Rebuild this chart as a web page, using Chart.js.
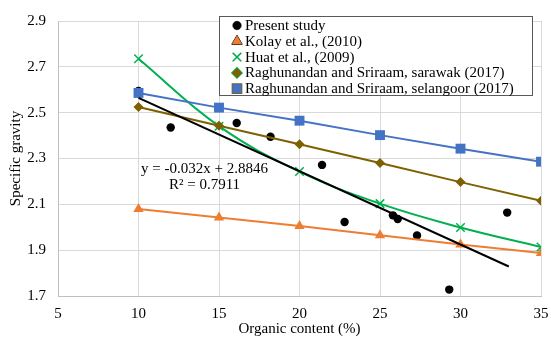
<!DOCTYPE html>
<html>
<head>
<meta charset="utf-8">
<script src="https://cdn.jsdelivr.net/npm/chart.js@4/dist/chart.umd.min.js"></script>
<style>
  html, body { margin: 0; padding: 0; background: #fff; }
  #wrap { width: 551px; height: 339px; position: relative; }
</style>
</head>
<body>
<div id="wrap"><canvas id="chart"></canvas></div>
<script>
// x ticks run 5..35, y ticks 1.7..2.9
const seriesX = [10, 15, 20, 25, 30, 35];

// Present study (scatter)
const presentX = [10, 12, 16.1, 18.2, 21.4, 22.8, 25.8, 26.1, 27.3, 29.3, 32.9];
const presentY = [2.595, 2.435, 2.455, 2.395, 2.272, 2.023, 2.052, 2.036, 1.964, 1.728, 2.064];

// literature series
const kolayY = [2.08, 2.043, 2.005, 1.965, 1.925, 1.888];
const huatY = [2.735, 2.441, 2.243, 2.103, 1.999, 1.914];
const sarawakY = [2.525, 2.443, 2.362, 2.28, 2.197, 2.116];
const selangoorY = [2.586, 2.522, 2.465, 2.402, 2.343, 2.286];

// linear trend of present study
const trendSlope = -0.032;
const trendIntercept = 2.8846;
const trendRange = [10, 33];

const legendLabels = [
  'Present study',
  'Kolay et al., (2010)',
  'Huat et al., (2009)',
  'Raghunandan and Sriraam, sarawak (2017)',
  'Raghunandan and Sriraam, selangoor (2017)'
];

const FONT = "'Liberation Serif', 'Times New Roman', serif";

function pts(xs, ys) { return xs.map((x, i) => ({ x: x, y: ys[i] })); }

const trendData = trendRange.map(x => ({ x: x, y: trendSlope * x + trendIntercept }));

const datasets = [
  {
    label: 'trend', data: trendData, showLine: true, borderColor: '#000', borderWidth: 2,
    pointRadius: 0, fill: false
  },
  {
    label: legendLabels[4], data: pts(seriesX, selangoorY), showLine: true,
    borderColor: '#4472C4', backgroundColor: '#4472C4', borderWidth: 2,
    pointStyle: 'rect', pointRadius: 7, pointBorderWidth: 0
  },
  {
    label: legendLabels[3], data: pts(seriesX, sarawakY), showLine: true,
    borderColor: '#7F6000', backgroundColor: '#7F6000', borderWidth: 2,
    pointStyle: 'rectRot', pointRadius: 5, pointBorderWidth: 0
  },
  {
    label: legendLabels[2], data: pts(seriesX, huatY), showLine: true, tension: 0.4,
    borderColor: '#00B050', backgroundColor: '#00B050', borderWidth: 2,
    pointStyle: 'crossRot', pointRadius: 6, pointBorderWidth: 1.5
  },
  {
    label: legendLabels[1], data: pts(seriesX, kolayY), showLine: true,
    borderColor: '#ED7D31', backgroundColor: '#ED7D31', borderWidth: 2,
    pointStyle: 'triangle', pointRadius: 6, pointBorderWidth: 0
  },
  {
    label: legendLabels[0], data: pts(presentX, presentY), showLine: false,
    borderColor: '#000', backgroundColor: '#000',
    pointStyle: 'circle', pointRadius: 4.2, pointBorderWidth: 0
  }
];

// legend box drawn inside plot, plus the trend equation
const overlayPlugin = {
  id: 'overlay',
  afterDraw(chart) {
    const ctx = chart.ctx;
    const xs = chart.scales.x, ys = chart.scales.y;
    ctx.save();

    // equation text
    ctx.fillStyle = '#000';
    ctx.font = '15px ' + FONT;
    ctx.textAlign = 'center';
    ctx.textBaseline = 'middle';
    const ex = xs.getPixelForValue(14.1);
    const ey = ys.getPixelForValue(2.252);
    ctx.fillText('y = -0.032x + 2.8846', ex, ey);
    ctx.fillText('R\u00B2 = 0.7911', ex, ey + 16);

    // legend
    const left = 219, top = 16, w = 313, h = 79;
    ctx.fillStyle = '#fff';
    ctx.fillRect(left, top, w, h);
    ctx.strokeStyle = '#595959';
    ctx.lineWidth = 1;
    ctx.strokeRect(left + 0.5, top + 0.5, w, h);

    const order = [5, 4, 3, 2, 1];
    ctx.textAlign = 'left';
    order.forEach((di, i) => {
      const ds = chart.data.datasets[di];
      const y = top + 9.5 + i * 15.8;
      Chart.helpers.drawPoint(ctx, {
        pointStyle: ds.pointStyle,
        radius: ds.pointStyle === 'rect' ? 6.5 : ds.pointRadius,
        rotation: 0,
        borderWidth: ds.pointBorderWidth || 0.01
      }, 237, y);
      ctx.fillStyle = ds.backgroundColor;
      ctx.strokeStyle = ds.borderColor;
      ctx.lineWidth = ds.pointBorderWidth || 0;
      ctx.fill();
      if (ds.pointBorderWidth) ctx.stroke();
      ctx.fillStyle = '#000';
      ctx.fillText(legendLabels[i], 245, y + 0.5);
    });
    ctx.restore();
  }
};

new Chart(document.getElementById('chart'), {
  type: 'scatter',
  data: { datasets: datasets },
  options: {
    responsive: true,
    maintainAspectRatio: false,
    animation: false,
    layout: { padding: { left: 0, right: 10, top: 11, bottom: 0 } },
    plugins: { legend: { display: false }, tooltip: { enabled: false } },
    elements: { line: { fill: false } },
    scales: {
      x: {
        type: 'linear', min: 5, max: 35,
        ticks: { stepSize: 5, color: '#000', padding: 9, font: { family: FONT, size: 15 } },
        grid: { color: '#d9d9d9', drawTicks: false },
        border: { color: '#bfbfbf' },
        title: { display: true, text: 'Organic content (%)', color: '#000', padding: { top: 0, bottom: 1 }, font: { family: FONT, size: 15 } },
        afterFit(scale) { scale.height = 43; scale.paddingRight = 0; scale.paddingLeft = 0; }
      },
      y: {
        type: 'linear', min: 1.7, max: 2.9,
        ticks: { stepSize: 0.2, color: '#000', padding: 12, font: { family: FONT, size: 15 },
          callback: v => v.toFixed(1) },
        grid: { color: '#d9d9d9', drawTicks: false },
        border: { color: '#bfbfbf' },
        title: { display: true, text: 'Specific gravity', color: '#000', padding: { top: 7, bottom: 0 }, font: { family: FONT, size: 15 } },
        afterFit(scale) { scale.width = 58; }
      }
    }
  },
  plugins: [overlayPlugin]
});
</script>
</body>
</html>
